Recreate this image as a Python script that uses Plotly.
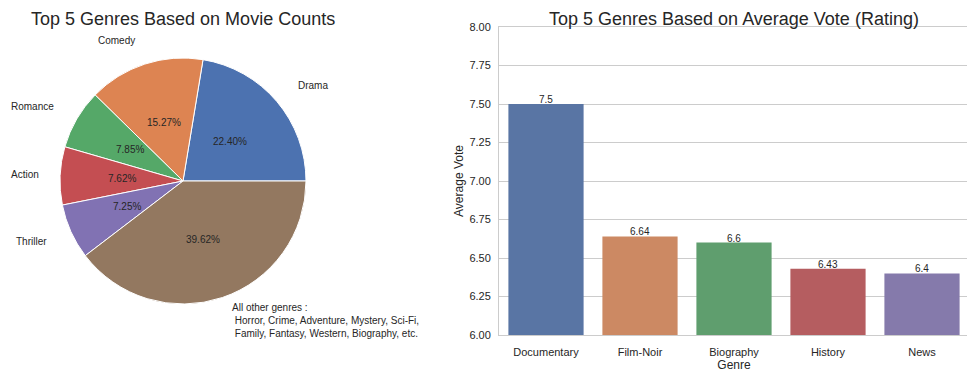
import math
import plotly.graph_objects as go

# ---- data ----
pie_labels = ["Drama", "Comedy", "Romance", "Action", "Thriller",
              "All other genres :<br>\u00a0Horror, Crime, Adventure, Mystery, Sci-Fi,<br>\u00a0Family, Fantasy, Western, Biography, etc."]
pie_pcts = [22.40, 15.27, 7.85, 7.62, 7.25, 39.62]
pie_colors = ["#4C72B0", "#DD8452", "#55A868", "#C44E52", "#8172B3", "#937860"]

bar_genres = ["Documentary", "Film-Noir", "Biography", "History", "News"]
bar_votes = [7.5, 6.64, 6.6, 6.43, 6.4]
bar_colors = ["#5975A4", "#CC8963", "#5F9E6E", "#B55D60", "#857AAB"]

# page body has an 8px margin: figure drawn offset by (8, 8)
OX, OY = 8, 8
W, H = 975 - OX, 376 - OY
FONT = "Liberation Sans, Arial, DejaVu Sans, sans-serif"
TXT = "#262626"


def px(sx):
    return (sx - OX) / W


def py(sy):
    return 1 - (sy - OY) / H


# pie geometry (screen px)
cx, cy, R = 183, 181, 123
total = sum(pie_pcts)

fig = go.Figure()
fig.add_trace(go.Pie(
    labels=[l.split("<br>")[0] for l in pie_labels], values=pie_pcts,
    marker=dict(colors=pie_colors, line=dict(color="white", width=1)),
    sort=False, direction="counterclockwise",
    rotation=90 - pie_pcts[0] / total * 360,
    textinfo="none", hoverinfo="label+percent", showlegend=False,
    domain=dict(x=[px(cx - R), px(cx + R)], y=[py(cy + R), py(cy - R)]),
))

fig.add_trace(go.Bar(
    x=bar_genres, y=bar_votes, marker=dict(color=bar_colors, line=dict(width=0)),
    width=0.8, showlegend=False, xaxis="x", yaxis="y",
))

annotations = []
start = 0.0
for lab, p in zip(pie_labels, pie_pcts):
    mid = math.radians((start + p / 2) / total * 360)
    start += p
    lx = cx + 1.2 * R * math.cos(mid)
    ly = cy - 1.2 * R * math.sin(mid)
    anchor = "left" if math.cos(mid) > 0 else "right"
    est_w = len(lab.split("<br>")[0]) * 4.6
    if anchor == "right" and lx - est_w < OX + 1:
        anchor, lx = "left", OX + 1
    annotations.append(dict(
        x=px(lx), y=py(ly), xref="paper", yref="paper", text=lab, showarrow=False,
        xanchor=anchor, yanchor="middle", align="left",
        font=dict(size=10, color=TXT, family=FONT)))
    tx = cx + 0.5 * R * math.cos(mid)
    ty = cy - 0.5 * R * math.sin(mid)
    annotations.append(dict(
        x=px(tx), y=py(ty), xref="paper", yref="paper", text=f"{p:.2f}%", showarrow=False,
        xanchor="center", yanchor="middle", font=dict(size=10, color=TXT, family=FONT)))

for g, v in zip(bar_genres, bar_votes):
    annotations.append(dict(x=g, y=v, xref="x", yref="y", text=str(v), showarrow=False,
                            xanchor="center", yanchor="bottom", yshift=-3,
                            font=dict(size=10, color=TXT, family=FONT)))

annotations.append(dict(x=px(cx), y=py(19), xref="paper", yref="paper",
                        text="Top 5 Genres Based on Movie Counts", showarrow=False,
                        xanchor="center", yanchor="middle", font=dict(size=18, color=TXT, family=FONT)))
annotations.append(dict(x=px(734), y=py(19), xref="paper", yref="paper",
                        text="Top 5 Genres Based on Average Vote (Rating)", showarrow=False,
                        xanchor="center", yanchor="middle", font=dict(size=18, color=TXT, family=FONT)))

fig.update_layout(
    width=W, height=H, margin=dict(l=0, r=0, t=0, b=0, pad=0, autoexpand=False),
    paper_bgcolor="white", plot_bgcolor="white",
    font=dict(family=FONT, color=TXT, size=11),
    annotations=annotations,
    xaxis=dict(domain=[px(499), px(969)], showgrid=False, showline=True, mirror=True,
               linecolor="#cccccc", linewidth=1, ticks="outside", ticklen=7,
               tickcolor="rgba(0,0,0,0)", automargin=False,
               tickfont=dict(size=11, color=TXT),
               title=dict(text="Genre", font=dict(size=12, color=TXT), standoff=0)),
    yaxis=dict(domain=[py(335), py(27)], range=[6, 8], dtick=0.25, tickformat=".2f",
               showgrid=True, gridcolor="#cccccc", gridwidth=1, showline=True, mirror=True,
               linecolor="#cccccc", linewidth=1, ticks="outside", ticklen=5,
               tickcolor="rgba(0,0,0,0)", zeroline=False, automargin=False,
               tickfont=dict(size=11, color=TXT),
               title=dict(text="Average Vote", font=dict(size=12, color=TXT), standoff=3)),
)

fig.write_html("out.html")
